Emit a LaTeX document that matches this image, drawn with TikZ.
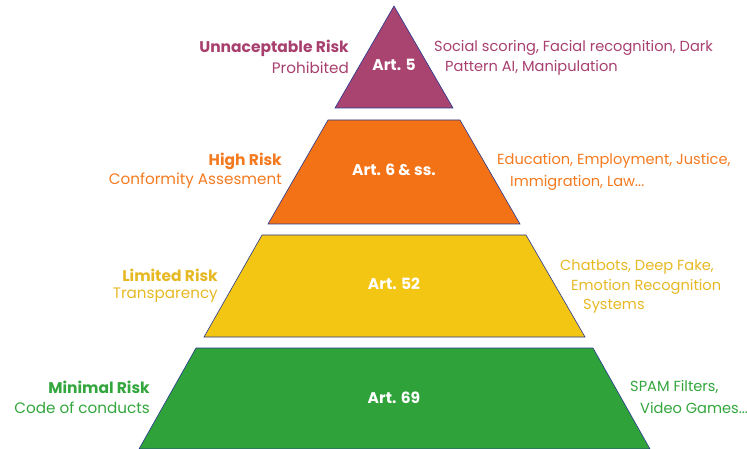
\documentclass[tikz,border=0pt]{standalone}
\usepackage{fontspec}
\setmainfont{Poppins}
\definecolor{magfill}{HTML}{A9436F}
\definecolor{magtext}{HTML}{A8406F}
\definecolor{orfill}{HTML}{F47216}
\definecolor{ortext}{HTML}{F47A20}
\definecolor{yefill}{HTML}{F4C614}
\definecolor{yetext}{HTML}{E6B924}
\definecolor{grfill}{HTML}{2FA23A}
\definecolor{grtext}{HTML}{33A63D}
\definecolor{edge}{HTML}{27388F}
\tikzset{
  layer/.style={draw=edge, line width=0.6pt, line join=miter},
  head/.style={font=\fontsize{15.5}{17}\selectfont\bfseries, inner sep=0pt, anchor=east},
  sub/.style={font=\fontsize{15.2}{17}\selectfont, inner sep=0pt, anchor=east},
  ex/.style={font=\fontsize{14.6}{17}\selectfont, inner sep=0pt, anchor=west},
  art/.style={font=\fontsize{15.5}{17}\selectfont\bfseries, text=white, inner sep=0pt}
}
\begin{document}
\begin{tikzpicture}[x=1pt,y=-1pt]
\useasboundingbox (0,0) rectangle (747,449);
% layer corners
\coordinate (apex) at (394,6);
\coordinate (t1l) at (335,108); \coordinate (t1r) at (453,108);
\coordinate (o1l) at (328,120); \coordinate (o1r) at (460,120);
\coordinate (o2l) at (268,224); \coordinate (o2r) at (520,224);
\coordinate (y1l) at (262,235); \coordinate (y1r) at (526,235);
\coordinate (y2l) at (204,337); \coordinate (y2r) at (585,337);
\coordinate (g1l) at (196,348); \coordinate (g1r) at (593,348);
\coordinate (g2l) at (139,449); \coordinate (g2r) at (650,449);
\draw[layer, fill=magfill] (apex) -- (t1r) -- (t1l) -- cycle;
\draw[layer, fill=orfill] (o1l) -- (o1r) -- (o2r) -- (o2l) -- cycle;
\draw[layer, fill=yefill] (y1l) -- (y1r) -- (y2r) -- (y2l) -- cycle;
\draw[layer, fill=grfill] (g1l) -- (g1r) -- (g2r) -- (g2l) -- cycle;
% art labels
\node[art] (a5) at (394,65) {Art. 5};
\node[art] (a6) at (394,170) {Art. 6 \& ss.};
\node[art] (a52) at (394,284) {Art. 52};
\node[art] (a69) at (394,398) {Art. 69};
% left labels
\node[head, text=magtext] (h1) at (349,48) {Unnaceptable Risk};
\node[sub, text=magtext] (s1) at (349,68) {Prohibited};
\node[head, text=ortext] (h2) at (282,161) {High Risk};
\node[sub, text=ortext] (s2) at (282,181) {Conformity Assesment};
\node[head, text=yetext] (h3) at (218,275) {Limited Risk};
\node[sub, text=yetext] (s3) at (218,295) {Transparency};
\node[head, text=grtext] (h4) at (150,387) {Minimal Risk};
\node[sub, text=grtext] (s4) at (150,408) {Code of conducts};
% right examples
\node[ex, text=magtext] (e1a) at (434,48) {Social scoring, Facial recognition, Dark};
\node[ex, text=magtext] (e1b) at (445,68) {Pattern AI, Manipulation};
\node[ex, text=ortext] (e2a) at (497,161) {Education, Employment, Justice,};
\node[ex, text=ortext] (e2b) at (510,183) {Immigration, Law...};
\node[ex, text=yetext] (e3a) at (560,267) {Chatbots, Deep Fake,};
\node[ex, text=yetext] (e3b) at (571,287) {Emotion Recognition};
\node[ex, text=yetext] (e3c) at (583,306) {Systems};
\node[ex, text=grtext] (e4a) at (630,387) {SPAM Filters,};
\node[ex, text=grtext] (e4b) at (640,408) {Video Games...};
\end{tikzpicture}
\end{document}
